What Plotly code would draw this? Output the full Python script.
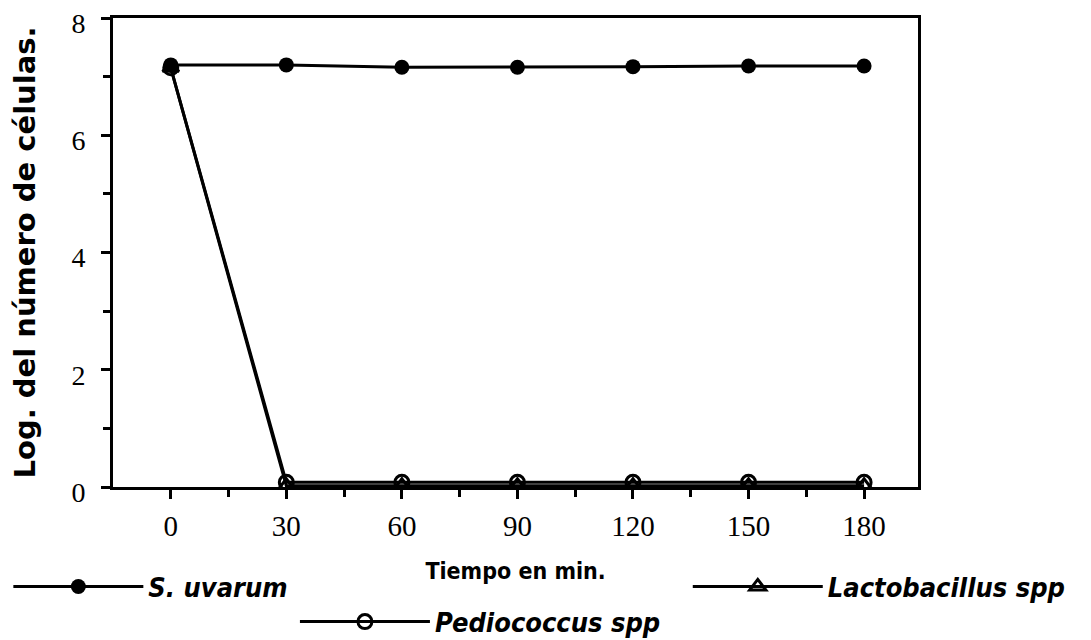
import plotly.graph_objects as go

minutes = [0, 30, 60, 90, 120, 150, 180]
s_uvarum = [7.2, 7.2, 7.16, 7.16, 7.17, 7.18, 7.18]
pediococcus = [7.15, 0.08, 0.08, 0.08, 0.08, 0.08, 0.08]
lactobacillus = [7.15, 0.02, 0.02, 0.02, 0.02, 0.02, 0.02]

x_ticks = [0, 30, 60, 90, 120, 150, 180]
y_ticks = [0, 2, 4, 6, 8]

leg_font = dict(family="DejaVu Sans Condensed", size=27, color="black",
                weight="bold", style="italic")

fig = go.Figure()
fig.add_trace(go.Scatter(x=minutes, y=s_uvarum, name="S. uvarum", mode="lines+markers",
    line=dict(color="black", width=3),
    marker=dict(symbol="circle", size=15, color="black"), legend="legend"))
fig.add_trace(go.Scatter(x=minutes, y=pediococcus, name="Pediococcus spp", mode="lines+markers",
    line=dict(color="black", width=3),
    marker=dict(symbol="circle-open", size=14, color="black", line=dict(width=3)),
    legend="legend2"))
fig.add_trace(go.Scatter(x=minutes, y=lactobacillus, name="Lactobacillus spp", mode="lines+markers",
    line=dict(color="black", width=3),
    marker=dict(symbol="triangle-up-open", size=14, color="black", line=dict(width=3)),
    legend="legend3"))

axis_common = dict(showline=True, linecolor="black", linewidth=3, mirror=True,
                   ticks="outside", ticklen=9, tickwidth=3, tickcolor="black",
                   showgrid=False, zeroline=False, ticklabeloverflow="allow")

fig.update_xaxes(range=[-15, 194], tickvals=x_ticks, ticklabelstandoff=2,
                 tickfont=dict(family="Liberation Serif", size=29, color="black"),
                 minor=dict(tickvals=[15, 45, 75, 105, 135, 165], ticks="outside",
                            ticklen=7, tickwidth=3, tickcolor="black"),
                 title=dict(text="Tiempo en min.", standoff=23,
                            font=dict(family="DejaVu Sans Condensed", size=23,
                                      color="black", weight="bold")),
                 **axis_common)
fig.update_yaxes(range=[0, 8], tickvals=y_ticks, ticklabelstandoff=10, ticklabelshift=5,
                 tickfont=dict(family="Liberation Serif", size=28, color="black"),
                 minor=dict(tickvals=[1, 3, 5, 7], ticks="outside",
                            ticklen=7, tickwidth=3, tickcolor="black"),
                 title=dict(text="Log. del número de células.", standoff=32,
                            font=dict(family="DejaVu Sans", size=29,
                                      color="black", weight="bold")),
                 **axis_common)

legend_common = dict(xanchor="left", yanchor="middle", font=leg_font,
                     bgcolor="rgba(0,0,0,0)", itemwidth=130, borderwidth=0)

fig.update_layout(
    width=1091, height=640, showlegend=True,
    margin=dict(l=105, r=181, t=10, b=161, autoexpand=False),
    plot_bgcolor="white", paper_bgcolor="white",
    legend=dict(x=-0.13, y=-0.213, **legend_common),
    legend2=dict(x=0.226, y=-0.288, **legend_common),
    legend3=dict(x=0.714, y=-0.213, **legend_common),
)

fig.write_html("out.html")
